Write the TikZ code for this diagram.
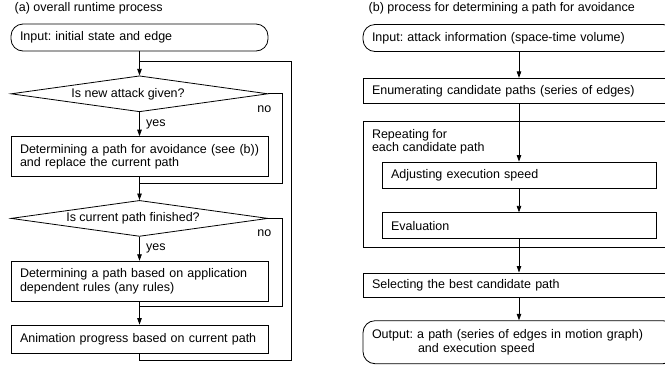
\documentclass[tikz,border=0pt]{standalone}
\usepackage{fontspec}
\setmainfont{Liberation Sans}
\usetikzlibrary{calc}
\usetikzlibrary{shapes.geometric,arrows.meta}
\usetikzlibrary{positioning}
\frenchspacing

\begin{document}
\begin{tikzpicture}[x=1pt, y=1pt, node distance={24pt}, thick,
		font=\fontsize{12.5}{13.4}\selectfont,
		>={Triangle[length=6.5pt,width=4.5pt]},
		proc/.style = {draw, rectangle, minimum width=257pt, text width=239pt, inner xsep=9pt, inner ysep=0pt, align=left, minimum height=27pt},
		io/.style = {proc, rounded corners=12pt},
		test/.style = {draw, diamond, aspect=7, minimum width=257pt, minimum height=36pt, inner sep=0pt},
		wide/.style = {proc, minimum width=312pt, text width=294pt},
		sub/.style = {proc, minimum width=274pt, text width=256pt, minimum height=26pt}]
		\useasboundingbox (0,0) rectangle (665,-365);
		\clip (0,0) rectangle (665,-365);
		
		% (a) overall runtime process
		\node[anchor=west] (titleA) at (11,-8) {(a) overall runtime process};
		\node[io] (inA) at (139.5,-37.5) {Input: initial state and edge};
		\node[test] (newAtk) [below = of inA] {Is new attack given?\hspace*{23pt}};
		\node[proc, minimum height=40pt] (avoid) [below = of newAtk] {Determining a path for avoidance (see (b))\\and replace the current path};
		\node[test] (done) [below = 23pt of avoid] {Is current path finished?\hspace*{13pt}};
		\node[proc, minimum height=40pt] (rules) [below = of done] {Determining a path based on application\\dependent rules (any rules)};
		\node[proc, minimum height=28pt] (anim) [below = 23pt of rules] {Animation progress based on current path};
		
		\coordinate (topA) at (139.5,-61);
		\coordinate (loopA) at (291,-360);
		\coordinate (joinA) at (139.5,-183);
		\coordinate (sideA) at (282,-183);
		\coordinate (joinB) at (139.5,-306);
		\coordinate (sideB) at (282,-306);
		
		\draw[->] (inA) -- (newAtk);
		\draw[->] (newAtk) -- node[midway, right, xshift=3pt] {yes} (avoid);
		\draw (newAtk.east) -| (sideA) -- (joinA);
		\node (noA) at ($(newAtk.east)+(-4,-15)$) {no};
		\draw[->] (avoid) -- (done);
		\draw[->] (done) -- node[midway, right, xshift=3pt] {yes} (rules);
		\draw (done.east) -| (sideB) -- (joinB);
		\node (noB) at ($(done.east)+(-4,-15)$) {no};
		\draw[->] (rules) -- (anim);
		\draw (anim) |- (loopA) |- (topA);
		
		% (b) process for determining a path for avoidance
		\node[anchor=west] (titleB) at (365,-8) {(b) process for determining a path for avoidance};
		\node[io, wide] (inB) at (519,-38) {Input: attack information (space-time volume)};
		\node[wide, minimum height=25pt] (enum) [below = 26pt of inB] {Enumerating candidate paths (series of edges)};
		\node[wide, minimum height=126pt] (rep) [below = 17pt of enum] {};
		\node[anchor=north west, align=left, inner sep=0pt] (repTxt) at ($(rep.north west)+(9,-8)$) {Repeating for\\each candidate path};
		\node[sub] (adj) at (519,-175) {Adjusting execution speed};
		\node[sub] (eval) [below = of adj] {Evaluation};
		\node[wide, minimum height=24pt] (best) [below = 25pt of rep] {Selecting the best candidate path};
		\node[io, wide, minimum height=43pt] (outB) [below = 23pt of best] {Output: a path (series of edges in motion graph)\\\hspace*{46pt}and execution speed};
		
		\draw[->] (inB) -- (enum);
		\draw[->] (enum) -- (adj);
		\draw[->] (adj) -- (eval);
		\draw[->] (eval) -- (best);
		\draw[->] (best) -- (outB);
	\end{tikzpicture}
\end{document}
